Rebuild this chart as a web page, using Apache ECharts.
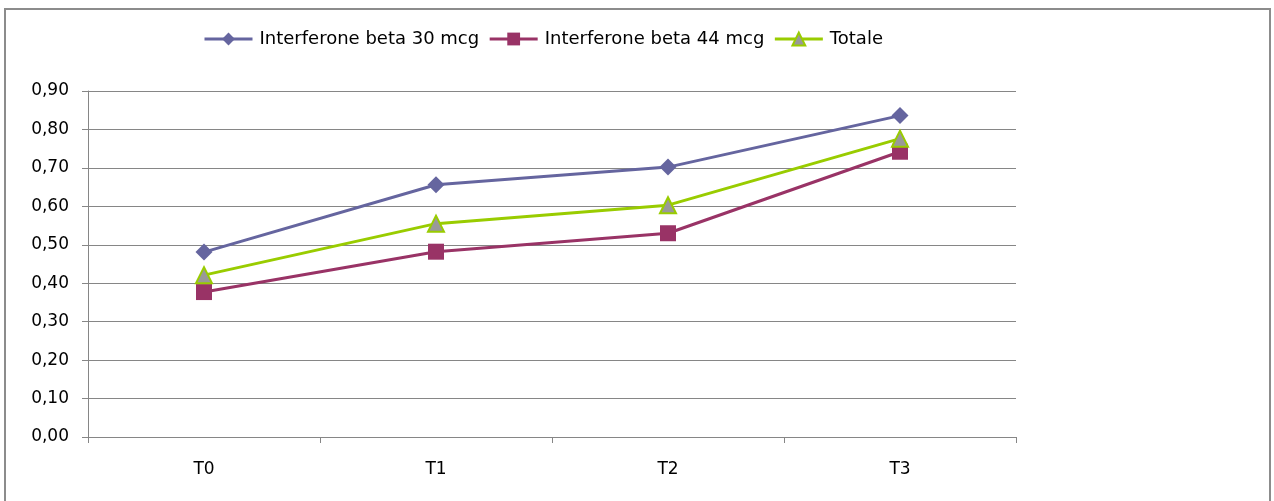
<!DOCTYPE html>
<html>
<head>
<meta charset="utf-8">
<script src="https://cdn.jsdelivr.net/npm/echarts@6/dist/echarts.min.js"></script>
<style>
  html, body { margin: 0; padding: 0; background: #fff; }
  #chart { width: 1274px; height: 501px; }
</style>
</head>
<body>
<div id="chart"></div>
<script>
// Time points and mean values per treatment group
var categories = ['T0', 'T1', 'T2', 'T3'];
var beta30 = [0.481, 0.656, 0.702, 0.836];
var beta44 = [0.377, 0.482, 0.530, 0.742];
var totale = [0.421, 0.555, 0.603, 0.776];
var seriesNames = ['Interferone beta 30 mcg', 'Interferone beta 44 mcg', 'Totale'];

var FONT = '"DejaVu Sans", "Open Sans", sans-serif';
var AXIS_GRAY = '#868686';

var chart = echarts.init(document.getElementById('chart'), null, { renderer: 'canvas' });

chart.setOption({
  animation: false,
  backgroundColor: '#ffffff',
  textStyle: { fontFamily: FONT },
  graphic: [{
    type: 'rect',
    shape: { x: 5, y: 9, width: 1265, height: 500 },
    style: { fill: 'none', stroke: '#8c8c8c', lineWidth: 2 },
    silent: true
  }],
  legend: {
    top: 25,
    left: 198,
    itemWidth: 48,
    itemHeight: 16,
    itemGap: 9,
    lineStyle: { width: 3 },
    textStyle: { fontFamily: FONT, fontSize: 18, color: '#000', padding: [0, 0, 0, 2] },
    data: seriesNames
  },
  grid: { left: 88, right: 258, top: 91, bottom: 64, containLabel: false },
  xAxis: {
    type: 'category',
    data: categories,
    boundaryGap: true,
    axisLine: { lineStyle: { color: AXIS_GRAY, width: 1 } },
    axisTick: { show: true, length: 6, lineStyle: { color: AXIS_GRAY } },
    axisLabel: { fontFamily: FONT, fontSize: 17, color: '#000', margin: 24 }
  },
  yAxis: {
    type: 'value',
    min: 0,
    max: 0.9,
    interval: 0.1,
    axisLine: { show: true, lineStyle: { color: AXIS_GRAY, width: 1 } },
    axisTick: { show: true, length: 6, lineStyle: { color: AXIS_GRAY } },
    splitLine: { show: true, lineStyle: { color: AXIS_GRAY, width: 1 } },
    axisLabel: {
      fontFamily: FONT, fontSize: 17, color: '#000', margin: 19,
      formatter: function (v) { return v.toFixed(2).replace('.', ','); }
    }
  },
  series: [
    {
      name: seriesNames[0],
      type: 'line',
      data: beta30,
      symbol: 'diamond',
      symbolSize: 17,
      lineStyle: { color: '#65659f', width: 3 },
      itemStyle: { color: '#65659f' }
    },
    {
      name: seriesNames[1],
      type: 'line',
      data: beta44,
      symbol: 'rect',
      symbolSize: 16,
      lineStyle: { color: '#993366', width: 3 },
      itemStyle: { color: '#993366' }
    },
    {
      name: seriesNames[2],
      type: 'line',
      data: totale,
      symbol: 'triangle',
      symbolSize: 16,
      lineStyle: { color: '#99cc00', width: 3 },
      itemStyle: { color: '#999999', borderColor: '#99cc00', borderWidth: 2 }
    }
  ]
});
</script>
</body>
</html>
